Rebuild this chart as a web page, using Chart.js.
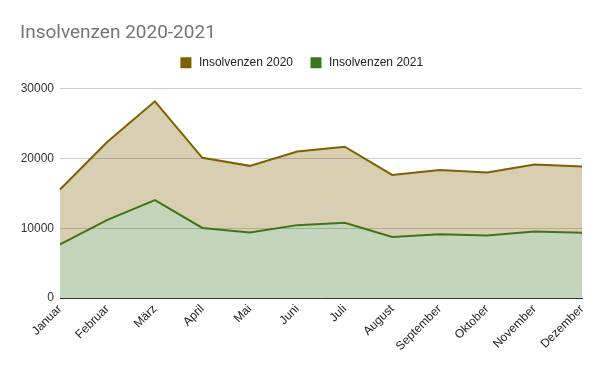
<!DOCTYPE html>
<html><head><meta charset="utf-8">
<script src="https://cdn.jsdelivr.net/npm/chart.js@4"></script>
<style>html,body{margin:0;padding:0;background:#fff;}#wrap{width:601px;height:372px;position:relative;}</style>
</head><body><div id="wrap"><canvas id="c" width="601" height="372"></canvas></div>
<script>
const categories = ["Januar","Februar","März","April","Mai","Juni","Juli","August","September","Oktober","November","Dezember"];
const values2020 = [15550, 22400, 28200, 20100, 18950, 21000, 21700, 17650, 18350, 18000, 19150, 18850];
const values2021 = [7700, 11200, 14050, 10050, 9400, 10450, 10800, 8750, 9150, 8950, 9550, 9350];
const yTicks = [0, 10000, 20000, 30000];

const legendHeightFix = {
  id: 'legendHeightFix',
  afterInit(chart) {
    const l = chart.legend;
    if (!l) return;
    const orig = l.fit.bind(l);
    l.fit = function () { orig(); this.height = 49; };
  }
};

new Chart(document.getElementById('c'), {
  type: 'line',
  data: {
    labels: categories,
    datasets: [
      { label: 'Insolvenzen 2021', data: values2021, borderColor: '#38761d', backgroundColor: 'rgba(56,118,29,0.3)', fill: 'origin', borderWidth: 2, pointRadius: 0, tension: 0, order: 1 },
      { label: 'Insolvenzen 2020', data: values2020, borderColor: '#7f6000', backgroundColor: 'rgba(127,96,0,0.3)', fill: '-1', borderWidth: 2, pointRadius: 0, tension: 0, order: 0 }
    ]
  },
  plugins: [legendHeightFix],
  options: {
    responsive: false, animation: false,
    layout: { padding: { left: 20, right: 19, top: 0, bottom: 0 } },
    plugins: {
      title: { display: true, text: 'Insolvenzen 2020-2021', align: 'start', color: '#757575',
        font: { family: 'Roboto', size: 19, weight: 'normal', lineHeight: 1.2 }, padding: { top: 22, bottom: -5 } },
      legend: { display: true, position: 'top', reverse: true,
        labels: { boxWidth: 14, boxHeight: 14, color: '#222', font: { family: 'Liberation Sans', size: 12 }, padding: 16,
          generateLabels: (chart) => chart.data.datasets.map((d, i) => ({ text: d.label, fillStyle: d.borderColor, strokeStyle: '#ffffff', lineWidth: 3, datasetIndex: i, fontColor: '#222' })) } },
      tooltip: { enabled: false }
    },
    scales: {
      x: {
        offset: false,
        grid: { display: false, drawTicks: false },
        border: { display: true, color: '#333', width: 1 },
        ticks: { maxRotation: 45, minRotation: 45, autoSkip: false, color: '#222', font: { family: 'Liberation Sans', size: 12 }, padding: 4 },
        afterFit: (s) => { s.height = 74; }
      },
      y: {
        min: 0, max: 30000,
        afterBuildTicks: (s) => { s.ticks = yTicks.map(v => ({ value: v })); },
        grid: { color: '#cccccc', drawTicks: false },
        border: { display: false },
        ticks: { color: '#333', font: { family: 'Liberation Sans', size: 12 }, padding: 6, callback: (v) => String(v) },
        afterFit: (s) => { s.width = 40; }
      }
    }
  }
});
</script></body></html>
